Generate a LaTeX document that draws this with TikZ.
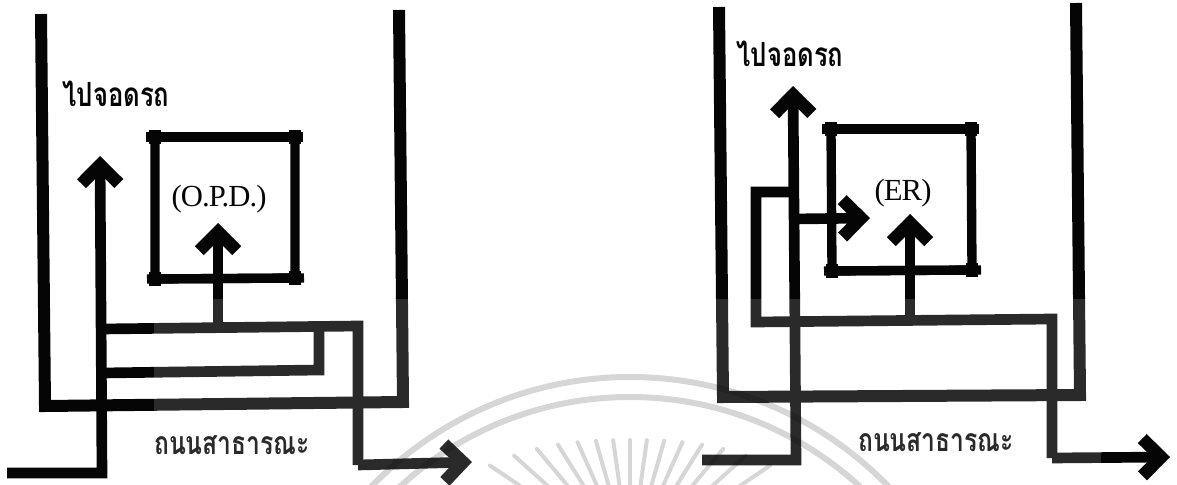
\documentclass[tikz,border=0pt]{standalone}
\usepackage{fontspec}
\setmainfont{Liberation Serif}
\newfontfamily\thaifont[Script=Thai,FakeStretch=.77]{Loma}
\usetikzlibrary{arrows.meta}

\definecolor{ink}{HTML}{050505}

\tikzset{
  wall/.style={draw=ink, line width=9pt, line join=miter},
  road/.style={draw=ink, line width=8pt, line join=miter},
  roadarr/.style={road, -{Straight Barb[length=14pt, width=28pt, line width=9.5pt, sharp]}},
  room/.style={draw=ink, line width=7pt},
  post/.style={fill=ink},
  thlabel/.style={font=\thaifont\bfseries\fontsize{25pt}{25pt}\selectfont, inner sep=0pt, text=ink},
  stlabel/.style={thlabel, font=\thaifont\bfseries\fontsize{24pt}{25pt}\selectfont},
  enlabel/.style={font=\fontsize{23pt}{23pt}\selectfont\addfontfeature{LetterSpace=-3}, inner sep=0pt, text=ink},
  fadeband/.style={fill=white, opacity=.15}
}

\begin{document}
\begin{tikzpicture}[x=0.75pt, y=-0.75pt]
\useasboundingbox (0,0) rectangle (1177,485);
\clip (0,0) rectangle (1177,485);

% left plan
\draw[wall] (41,14) -- (45,406) -- (403,402) -- (399,10);
\draw[room] (155,137) -- (295,137) -- (295,278) -- (155,279) -- cycle;
\foreach \cx/\cy in {155/137,295/137,155/279,295/278}
  \fill[post] (\cx-6,\cy-7) rectangle (\cx+6,\cy+7);
\draw[room] (146,137) -- (303,137);
\draw[room] (147,279) -- (304,278);
\node[thlabel] (parkA) at (116,94) {ไปจอดรถ};
\node[enlabel] (opd) at (219,199) {(O.P.D.)};
\node[stlabel] (streetA) at (232,445) {ถนนสาธารณะ};
\draw[roadarr] (7,473) -- (102,473) -- (100,156);
\draw[road] (102,329) -- (358,326) -- (358,465);
\draw[roadarr] (358,465) -- (472,462);
\draw[road] (102,373) -- (319,370) -- (319,326);
\draw[roadarr] (218,326) -- (218,223);

% right plan
\draw[wall] (719,7) -- (723,397) -- (1080,395) -- (1076,3);
\draw[room] (831,129) -- (971,129) -- (972,270) -- (832,271) -- cycle;
\foreach \cx/\cy in {831/129,971/129,832/271,972/270}
  \fill[post] (\cx-6,\cy-7) rectangle (\cx+6,\cy+7);
\draw[room] (822,129) -- (979,129);
\draw[room] (824,271) -- (981,270);
\node[thlabel] (parkB) at (790,54) {ไปจอดรถ};
\node[enlabel] (er) at (903,193) {(ER)};
\node[stlabel] (streetB) at (936,442) {ถนนสาธารณะ};
\draw[roadarr] (702,460) -- (796,460) -- (793,86);
\draw[road] (793,192) -- (756,192) -- (756,322) -- (1052,319) -- (1052,458);
\draw[roadarr] (1052,458) -- (1170,457);
\draw[roadarr] (793,219) -- (870,218);
\draw[roadarr] (910,319) -- (910,214);

% scan band and stamp
\fill[fadeband] (154,299) rectangle (1101,485);
\foreach \rad in {360,340}
  \draw[black, opacity=.16, line width=4.5pt] (630,737) circle (\rad);
\foreach \k in {-7,...,7}
  \draw[black, opacity=.16, line width=3pt, line cap=round]
    ({630+cos(90+8*\k)*(120+abs(\k)*abs(\k))}, {560-sin(90+8*\k)*(120+abs(\k)*abs(\k))})
    -- ({630+cos(90+8*\k)*30}, {560-sin(90+8*\k)*30});
\end{tikzpicture}
\end{document}
